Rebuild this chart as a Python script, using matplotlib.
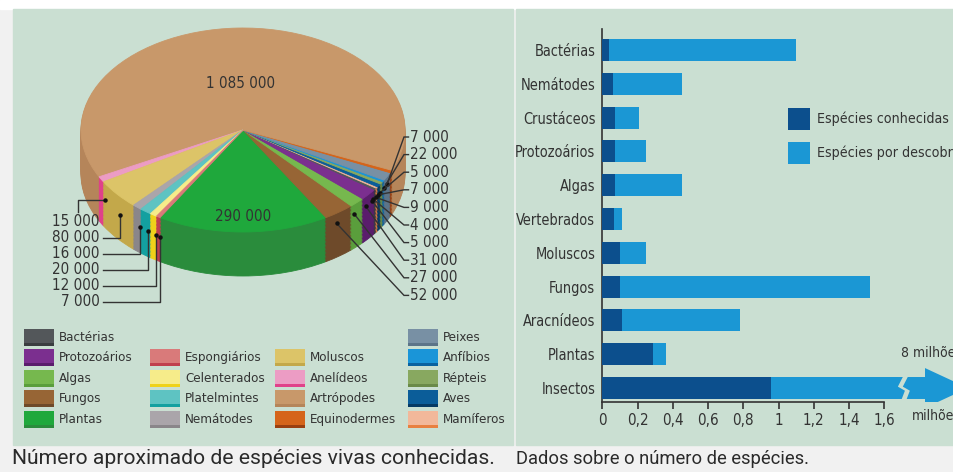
import matplotlib
matplotlib.use('Agg')
import matplotlib.pyplot as plt
import numpy as np
from matplotlib.patches import Rectangle, Polygon
from matplotlib import font_manager as fm

# ---------------- data ----------------
pie_groups = ['Plantas', 'Fungos', 'Algas', 'Protozoários', 'Bactérias', 'Mamíferos',
              'Aves', 'Répteis', 'Anfíbios', 'Peixes', 'Equinodermes', 'Artrópodes',
              'Anelídeos', 'Moluscos', 'Nemátodes', 'Platelmintes', 'Celenterados',
              'Espongiários']
pie_values = [290000, 52000, 27000, 31000, 5000, 4000,
              9000, 7000, 5000, 22000, 7000, 1085000,
              15000, 80000, 16000, 20000, 12000, 7000]
right_label_groups = ['Equinodermes', 'Peixes', 'Anfíbios', 'Répteis', 'Aves',
                      'Mamíferos', 'Bactérias', 'Protozoários', 'Algas', 'Fungos']
left_label_groups = ['Anelídeos', 'Moluscos', 'Nemátodes', 'Platelmintes',
                     'Celenterados', 'Espongiários']
legend_columns = [['Bactérias', 'Protozoários', 'Algas', 'Fungos', 'Plantas'],
                  [None, 'Espongiários', 'Celenterados', 'Platelmintes', 'Nemátodes'],
                  [None, 'Moluscos', 'Anelídeos', 'Artrópodes', 'Equinodermes'],
                  ['Peixes', 'Anfíbios', 'Répteis', 'Aves', 'Mamíferos']]

bar_categories = ['Bactérias', 'Nemátodes', 'Crustáceos', 'Protozoários', 'Algas',
                  'Vertebrados', 'Moluscos', 'Fungos', 'Aracnídeos', 'Plantas', 'Insectos']
known_species = [0.04, 0.06, 0.07, 0.07, 0.07, 0.065, 0.10, 0.10, 0.11, 0.29, 0.96]
total_species = [1.10, 0.45, 0.21, 0.25, 0.45, 0.11, 0.25, 1.52, 0.78, 0.36, 8.0]
x_ticks = [0, 0.2, 0.4, 0.6, 0.8, 1.0, 1.2, 1.4, 1.6]
x_tick_labels = ['0', '0,2', '0,4', '0,6', '0,8', '1', '1,2', '1,4', '1,6']

# ---------------- style ----------------
top_col = {
    'Bactérias': '#53575a', 'Protozoários': '#7b2f8f', 'Algas': '#76b84e',
    'Fungos': '#976535', 'Plantas': '#1fa83c', 'Espongiários': '#d97a7a',
    'Celenterados': '#f6ec8a', 'Platelmintes': '#5ec3c2', 'Nemátodes': '#aaa5aa',
    'Moluscos': '#dcc468', 'Anelídeos': '#ec9cc4', 'Artrópodes': '#c8986a',
    'Equinodermes': '#d5641a', 'Peixes': '#7890a4', 'Anfíbios': '#1a95d8',
    'Répteis': '#88a860', 'Aves': '#0b5d99', 'Mamíferos': '#f2b89a'}
side_col = {
    'Bactérias': '#3a3d40', 'Protozoários': '#5a1d6c', 'Algas': '#5a9e3c',
    'Fungos': '#6e4a2a', 'Plantas': '#2a8c3c', 'Espongiários': '#c0404f',
    'Celenterados': '#efd21a', 'Platelmintes': '#13a0a0', 'Nemátodes': '#8a868a',
    'Moluscos': '#c3a84a', 'Anelídeos': '#e0418a', 'Artrópodes': '#b5855a',
    'Equinodermes': '#9a3f10', 'Peixes': '#5c7488', 'Anfíbios': '#0a62a0',
    'Répteis': '#6a8a48', 'Aves': '#063a64', 'Mamíferos': '#e88040'}

PANEL = '#cadfd2'
TXT = '#333333'
DARK = '#0c4f8d'
LIGHT = '#1b97d4'

# pick a narrow font if one is installed
_fl = fm.fontManager.ttflist
_names = {f.name for f in _fl}
if 'Liberation Sans Narrow' in _names:
    NARROW, STRETCH, K = ['Liberation Sans Narrow', 'DejaVu Sans'], 'normal', 1.0
elif any(f.name == 'DejaVu Sans' and str(f.stretch) in ('condensed', 'semi-condensed')
         for f in _fl):
    NARROW, STRETCH, K = ['DejaVu Sans'], 'condensed', 0.87
else:
    NARROW, STRETCH, K = ['Liberation Sans', 'DejaVu Sans'], 'normal', 0.86
plt.rcParams['font.family'] = NARROW
plt.rcParams['font.stretch'] = STRETCH

W, H = 954, 472
fig = plt.figure(figsize=(W / 100, H / 100), dpi=100)
fig.patch.set_facecolor('#f1f1f1')


def fx(x):
    return x / W


def fy(y):
    return 1 - y / H


# background panels
fig.add_artist(Rectangle((0, fy(9)), 1, 9 / H, transform=fig.transFigure,
                         color='white', zorder=0))
fig.add_artist(Rectangle((fx(13), fy(445)), 500 / W, 436 / H, transform=fig.transFigure,
                         color=PANEL, zorder=0))
fig.add_artist(Rectangle((fx(516), fy(445)), (W - 516) / W, 436 / H,
                         transform=fig.transFigure, color=PANEL, zorder=0))

# ---------------- pie ----------------
CX, CY, RX, RY = 243, 130, 162, 102   # pixel layout of the top ellipse
DEPTH = 44 / RY


def X(px):
    return (px - CX) / RX


def Y(py):
    return (CY - py) / RY


ax = fig.add_axes([fx(13), fy(445), 500 / W, 436 / H])
total = sum(pie_values)
start = 270 - 360 * pie_values[0] / total / 2
n_layers = 32
for k in range(n_layers):
    d = DEPTH * (1 - k / n_layers)
    ws, _ = ax.pie(pie_values, startangle=start, center=(0, -d), radius=1,
                   colors=[side_col[g] for g in pie_groups])
    for w in ws:
        w.set_edgecolor(w.get_facecolor())
        w.set_linewidth(0.6)
wedges, _ = ax.pie(pie_values, startangle=start, center=(0, 0), radius=1,
                   colors=[top_col[g] for g in pie_groups])
for w in wedges:
    w.set_edgecolor(w.get_facecolor())
    w.set_linewidth(0.6)
ax.set_aspect('auto')
ax.set_xlim(X(13), X(513))
ax.set_ylim(Y(445), Y(9))
ax.axis('off')

wmap = dict(zip(pie_groups, wedges))
vmap = dict(zip(pie_groups, pie_values))


def fmt(v):
    return f'{v:,}'.replace(',', ' ')


def mid(g, r, depth_frac):
    w = wmap[g]
    t = np.radians((w.theta1 + w.theta2) / 2)
    return r * np.cos(t), r * np.sin(t) - DEPTH * depth_frac


FS_NUM = 12.5 * K
# big labels
for g, r in [('Artrópodes', 0.46), ('Plantas', 0.85)]:
    x, y = mid(g, r, 0)
    ax.text(x, y, fmt(vmap[g]), ha='center', va='center', fontsize=FS_NUM, color=TXT)

LC = '#333333'
# right labels
for i, g in enumerate(right_label_groups):
    ly = Y(137 + i * 17.6)
    dx, dy = mid(g, 0.975, 0.3)
    ax.plot([dx, X(404), X(408.5)], [dy, ly, ly], color=LC, lw=1.0,
            solid_joinstyle='miter')
    ax.plot(dx, dy, 'o', color='#111111', ms=2.2)
    ax.text(X(410), ly, fmt(vmap[g]), ha='left', va='center', fontsize=FS_NUM, color=TXT)

# left labels
for i, g in enumerate(left_label_groups):
    ly = Y(222 + i * 15.9)
    dx, dy = mid(g, 0.975, 0.5)
    if dx < X(106):
        ax.plot([dx, X(78), X(78)], [dy, dy, ly + 10 / RY], color=LC, lw=1.0)
    else:
        ax.plot([X(103), dx, dx], [ly, ly, dy], color=LC, lw=1.0)
    ax.plot(dx, dy, 'o', color='#111111', ms=2.2)
    ax.text(X(100), ly, fmt(vmap[g]), ha='right', va='center', fontsize=FS_NUM, color=TXT)

# legend
col_x = [24, 150, 275, 408]
for c, col in enumerate(legend_columns):
    for r, g in enumerate(col):
        if g is None:
            continue
        top = 329 + r * 20.4
        fig.add_artist(Rectangle((fx(col_x[c]), fy(top + 17)), 30 / W, 17 / H,
                                 transform=fig.transFigure, color=top_col[g], lw=0))
        fig.add_artist(Rectangle((fx(col_x[c]), fy(top + 17)), 30 / W, 3 / H,
                                 transform=fig.transFigure, color=side_col[g], lw=0))
        fig.text(fx(col_x[c] + 35), fy(top + 8.5), g, ha='left', va='center',
                 fontsize=11 * K, color=TXT)

# ---------------- bars ----------------
X0, PXU, Y0, PXC = 602.3, 176.25, 50, 33.8
axb = fig.add_axes([fx(X0), fy(402), (W - X0) / W, (402 - 29) / H])
axb.set_facecolor('none')
BREAK = 1.705
yy = np.arange(len(bar_categories))
known = np.array(known_species)
tot = np.array(total_species)
BH = 0.65
broken = tot > BREAK
light_end = np.where(broken, BREAK - 0.03, tot)
axb.barh(yy, known, height=BH, color=DARK, zorder=3)
axb.barh(yy, light_end - known, left=known, height=BH, color=LIGHT, zorder=2)
for i in np.where(broken)[0]:
    y = yy[i]
    t, b = y - BH / 2, y + BH / 2
    B = BREAK
    axb.add_patch(Polygon([(B - 0.031, t), (B, t), (B - 0.028, y - 0.04),
                           (B + 0.012, y + 0.08), (B - 0.006, b), (B - 0.031, b)],
                          closed=True, color=LIGHT, lw=0, zorder=2))
    g = 0.028
    hx = (925 - X0) / PXU
    tip = (968 - X0) / PXU
    axb.add_patch(Polygon([(B + g, t), (hx, t), (hx, y - 0.59), (tip, y),
                           (hx, y + 0.59), (hx, b), (B + g - 0.006, b),
                           (B + g + 0.012, y + 0.08), (B + g - 0.028, y - 0.04)],
                          closed=True, color=LIGHT, lw=0, zorder=2))

axb.set_xlim(0, (W - X0) / PXU)
axb.set_ylim((402 - Y0) / PXC, (29 - Y0) / PXC)
axb.set_yticks(yy)
axb.set_yticklabels(bar_categories)
axb.set_xticks(x_ticks)
axb.set_xticklabels(x_tick_labels)
axb.tick_params(axis='y', length=0, pad=5, labelsize=12 * K, labelcolor=TXT)
axb.tick_params(axis='x', length=5, width=1.2, direction='out', pad=3,
                labelsize=12.5 * K, labelcolor=TXT, color=TXT)
for s in ['top', 'right']:
    axb.spines[s].set_visible(False)
for s in ['left', 'bottom']:
    axb.spines[s].set_color(TXT)
    axb.spines[s].set_linewidth(1.2)
axb.spines['bottom'].set_bounds(0, 1.6)

fig.text(fx(912), fy(416), 'milhões', ha='left', va='center', fontsize=10, color=TXT)
fig.text(fx(901), fy(353), '8 milhões', ha='left', va='center', fontsize=10, color=TXT)

# bar legend
for top, col, lab in [(108, DARK, 'Espécies conhecidas'), (142, LIGHT, 'Espécies por descobrir')]:
    fig.add_artist(Rectangle((fx(788), fy(top + 22)), 22 / W, 22 / H,
                             transform=fig.transFigure, color=col, lw=0))
    fig.text(fx(817), fy(top + 11), lab, ha='left', va='center', fontsize=10.2, color=TXT)

# captions
fig.text(fx(12), fy(459), 'Número aproximado de espécies vivas conhecidas.',
         ha='left', va='center', fontsize=15.2, color='#2a2a2a',
         family=['Roboto', 'DejaVu Sans'], stretch='normal')
fig.text(fx(516), fy(459), 'Dados sobre o número de espécies.',
         ha='left', va='center', fontsize=13.2, color='#2a2a2a',
         family=['Roboto', 'DejaVu Sans'], stretch='normal')

fig.savefig('out.png', dpi=100, facecolor=fig.get_facecolor())
